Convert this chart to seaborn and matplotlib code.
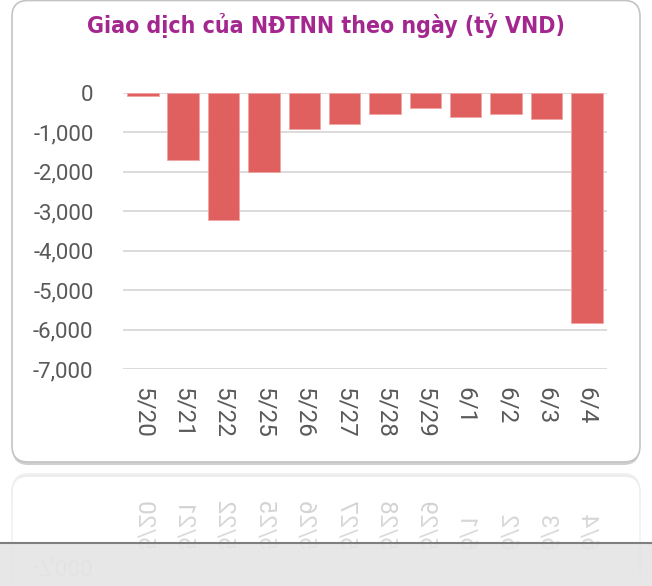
import numpy as np
import matplotlib
matplotlib.use("Agg")
import matplotlib.pyplot as plt
import seaborn as sns
from matplotlib.patches import FancyBboxPatch, Rectangle
from matplotlib.lines import Line2D

# data
dates = ["5/20", "5/21", "5/22", "5/25", "5/26", "5/27",
         "5/28", "5/29", "6/1", "6/2", "6/3", "6/4"]
net_value = [-80, -1700, -3220, -2010, -930, -790,
             -550, -380, -620, -550, -670, -5820]
y_ticks = [0, -1000, -2000, -3000, -4000, -5000, -6000, -7000]
title = "Giao dịch của NĐTNN theo ngày (tỷ VND)"

sns.set_theme(style="white")
plt.rcParams["font.family"] = ["Roboto", "DejaVu Sans"]

W, H = 652, 586
fig = plt.figure(figsize=(W / 100, H / 100), dpi=100)
fig.patch.set_facecolor("white")

# rounded card behind the chart
shadow = FancyBboxPatch((0.125, 1.21), 6.27, 4.64,
                        boxstyle="round,pad=0,rounding_size=0.16",
                        transform=fig.dpi_scale_trans,
                        facecolor="#cfcfcf", edgecolor="none", zorder=-2)
card = FancyBboxPatch((0.12, 1.24), 6.28, 4.615,
                      boxstyle="round,pad=0,rounding_size=0.16",
                      transform=fig.dpi_scale_trans,
                      facecolor="white", edgecolor="#c4c4c4",
                      linewidth=1.2, zorder=-1)
fig.add_artist(shadow)
fig.add_artist(card)

ax = fig.add_axes([122.7 / W, 216.7 / H, 484.3 / W, 276.6 / H])
ax.set_facecolor("none")

sns.barplot(x=dates, y=net_value, color="#E05F5F", saturation=1,
            width=0.78, edgecolor="#f2a5a5", linewidth=0.6, ax=ax)

ax.set_xlim(-0.5, len(dates) - 0.5)
ax.set_ylim(-7000, 0)
ax.set_yticks(y_ticks)
ax.set_yticklabels([f"{v:,}" for v in y_ticks])
ax.set_xticks(range(len(dates)))
ax.set_xticklabels(dates, rotation=-90, va="top", ha="center")
ax.set_xlabel("")
ax.set_ylabel("")
ax.yaxis.grid(True, color="#d9d9d9", linewidth=1.3)
ax.set_axisbelow(True)
for s in ax.spines.values():
    s.set_visible(False)
ax.tick_params(axis="y", length=0, pad=21, labelsize=16, labelcolor="#595959")
ax.tick_params(axis="x", length=0, pad=13, labelsize=17.5, labelcolor="#595959")

t = fig.text(0.5, 1 - 25 / H, title, ha="center", va="center",
             color="#A4278F", fontweight="bold", fontsize=22,
             family=["DejaVu Sans"], fontstretch="condensed")

# fit the title to the width seen in the reference
fig.canvas.draw()
tw = t.get_window_extent().width
t.set_fontsize(22 * 477 / tw)

# faded mirror of the lower part of the card
fig.canvas.draw()
buf = np.asarray(fig.canvas.buffer_rgba())[:, :, :3].astype(float) / 255
c = 469
n = H - c
src = buf[c - n:c][::-1]
a = np.linspace(0.32, 0.14, n)[:, None, None]
refl = 1 - a * (1 - src)
fig.figimage(refl, xo=0, yo=0, origin="upper", zorder=0)

band_h = 43 / H
fig.add_artist(Rectangle((0, 0), 1, band_h, transform=fig.transFigure,
                         facecolor="#e3e3e3", edgecolor="none",
                         alpha=0.85, zorder=5))
fig.add_artist(Line2D([0, 1], [band_h, band_h], transform=fig.transFigure,
                      color="#7f7f7f", linewidth=1.5, zorder=6))

fig.savefig("out.png", dpi=100)
